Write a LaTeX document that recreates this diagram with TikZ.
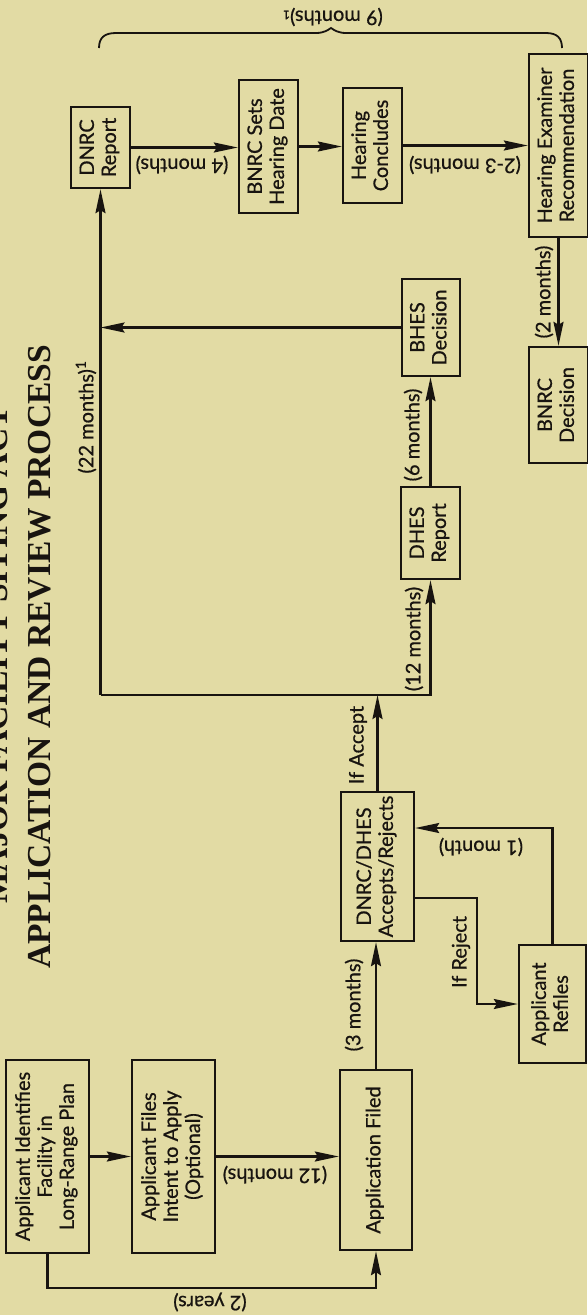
\documentclass[tikz,border=0pt]{standalone}
\usepackage{fontspec}
\setmainfont{Lato}[FakeBold=0.7]
\newfontfamily\titlefont{Liberation Serif}
\usetikzlibrary{arrows.meta}
\definecolor{bg}{RGB}{226,219,164}
\definecolor{ink}{RGB}{24,20,16}
\newcommand{\boxfont}{\fontsize{20}{22}\selectfont}
\newcommand{\rt}[1]{\rotatebox{90}{\begin{tabular}{@{}c@{}}#1\end{tabular}}}
\begin{document}
\begin{tikzpicture}[x=1pt,y=-1pt,
  box/.style={draw=ink, line width=2.4pt, inner sep=0pt, text=ink, font=\boxfont},
  lab/.style={text=ink, inner sep=1pt, font=\boxfont},
  arr/.style={draw=ink, line width=2.2pt, -{Stealth[length=24pt,width=10pt,inset=3pt]}},
  ln/.style={draw=ink, line width=2pt},
  ttl/.style={text=ink, inner sep=0pt, anchor=base, rotate=90, font=\titlefont\bfseries\fontsize{33.5}{36}\selectfont}]
\useasboundingbox (0,0) rectangle (587,1315);
\fill[bg] (0,0) rectangle (587,1315);

% title
\node[ttl] (t1) at (8,655) {MAJOR FACILITY SITING ACT};
\node[ttl] (t2) at (50,657) {APPLICATION AND REVIEW PROCESS};

% boxes
\node[box, minimum width=83pt, minimum height=193pt] (ident) at (47.5,1156.5) {\rt{Applicant Identifies\\Facility in\\Long-Range Plan}};
\node[box, minimum width=83pt, minimum height=193pt] (intent) at (173.5,1156.5) {\rt{Applicant Files\\Intent to Apply\\(Optional)}};
\node[box, minimum width=72pt, minimum height=180pt] (filed) at (376,1160) {\rt{Application Filed}};
\node[box, minimum width=73pt, minimum height=149pt] (accept) at (377.5,866.5) {\rt{DNRC/DHES\\Accepts/Rejects}};
\node[box, minimum width=67pt, minimum height=118pt] (refiles) at (552.5,1004) {\rt{Applicant\\Refiles}};
\node[box, minimum width=59pt, minimum height=81pt] (dnrc) at (100.5,147.5) {\rt{DNRC\\Report}};
\node[box, minimum width=59pt, minimum height=133pt] (bnrcs) at (268.5,146.5) {\rt{BNRC Sets\\Hearing Date}};
\node[box, minimum width=59pt, minimum height=115pt] (hconc) at (372.5,145.5) {\rt{Hearing\\Concludes}};
\node[box, minimum width=59pt, minimum height=183pt] (her) at (558.5,145.5) {\rt{Hearing Examiner\\Recommendation}};
\node[box, minimum width=58pt, minimum height=97pt] (bhes) at (431,327.5) {\rt{BHES\\Decision}};
\node[box, minimum width=59pt, minimum height=116pt] (bnrcd) at (558.5,405) {\rt{BNRC\\Decision}};
\node[box, minimum width=59pt, minimum height=92pt] (dhes) at (430.5,533) {\rt{DHES\\Report}};

% helper coordinates
\coordinate (yb) at (0,1288);
\coordinate (hl) at (0,695);
\coordinate (cl) at (dnrc.south |- hl);
\coordinate (rj) at (477,898);
\coordinate (lp) at (0,828);
\coordinate (bl) at (99,48);
\coordinate (br) at (562,48);

% connectors
\draw[arr] (ident) -- (intent);
\draw[arr] (intent) -- (intent -| filed.west);
\draw[arr] (ident.south) -- (ident.south |- yb) -| (filed.south);
\draw[arr] (filed) -- (filed |- accept.south);
\draw[arr] (accept) -- (accept |- hl);
\draw[arr] (cl) -- (dnrc.south);
\draw[arr] (cl) -| (dhes.south);
\draw[arr] (dhes) -- (dhes |- bhes.south);
\draw[arr] (bhes) -- (bhes -| cl);
\draw[arr] (dnrc) -- (dnrc -| bnrcs.west);
\draw[arr] (bnrcs) -- (bnrcs -| hconc.west);
\draw[arr] (hconc) -- (hconc -| her.west);
\draw[arr] (her) -- (her |- bnrcd.north);
\draw[arr] (accept.east |- rj) -- (rj) |- (refiles.west);
\draw[arr] (refiles.north) -- (refiles.north |- lp) -- (accept.east |- lp);

% brace
\draw[ln, line width=1.8pt] (bl) .. controls (99,38) and (104,33) .. (116,33) -- (316,33)
  .. controls (324,33) and (328,30) .. (331,28) .. controls (334,30) and (338,33) .. (346,33)
  -- (546,33) .. controls (557,33) and (562,38) .. (br);

% labels
\node[lab, rotate=180] (l9) at (333,17) {(9 months){\fontsize{12}{12}\selectfont 1}};
\node[lab, rotate=180] (l4) at (182,165) {(4 months)};
\node[lab, rotate=180] (l23) at (465,165) {(2-3 months)};
\node[lab, rotate=90] (l22) at (86,417) {(22 months)\textsuperscript{1}};
\node[lab, rotate=90] (l2m) at (544,292) {(2 months)};
\node[lab, rotate=90] (l6) at (413,435) {(6 months)};
\node[lab, rotate=90] (l12a) at (414,639) {(12 months)};
\node[lab, rotate=90] (lacc) at (358,745) {If Accept};
\node[lab, rotate=180] (l1) at (481,847) {(1 month)};
\node[lab, rotate=90] (lrej) at (461,952) {If Reject};
\node[lab, rotate=90] (l3) at (354,1005) {(3 months)};
\node[lab, rotate=180] (l12b) at (275,1175) {(12 months)};
\node[lab, rotate=180] (l2y) at (210,1302) {(2 years)};
\end{tikzpicture}
\end{document}
